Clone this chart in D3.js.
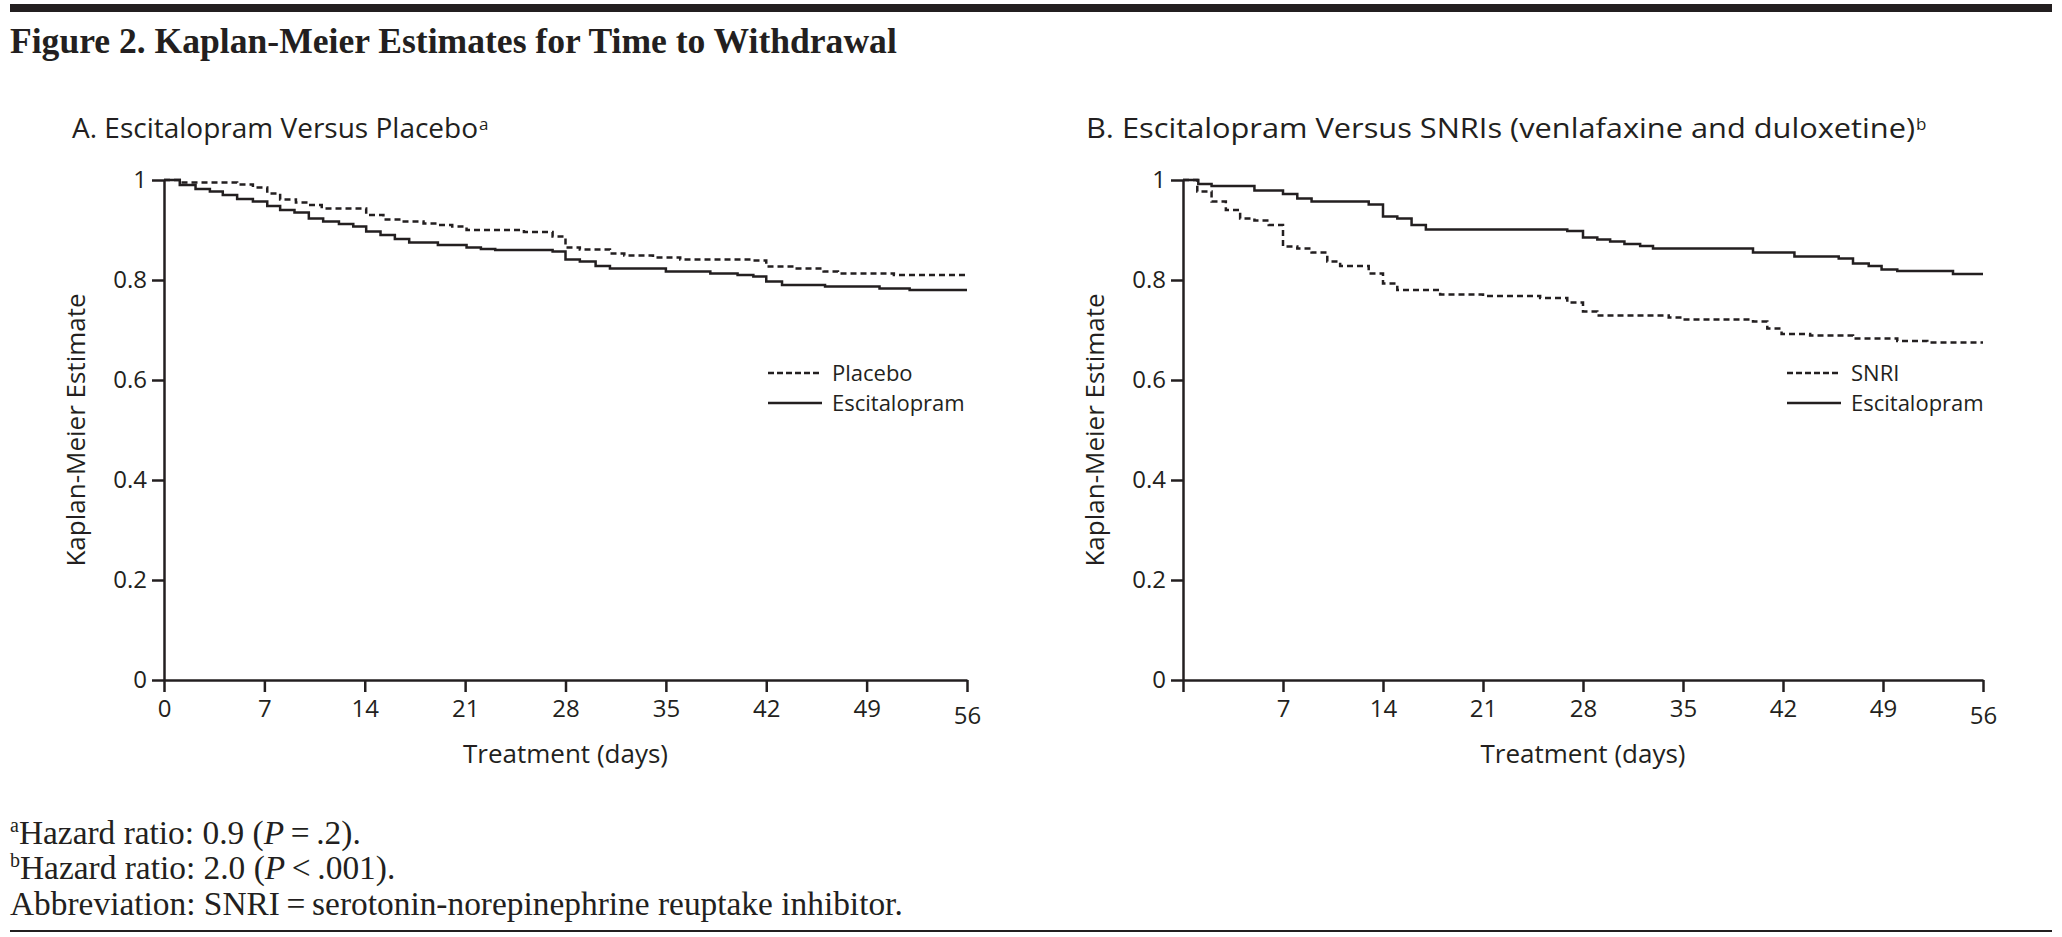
<!DOCTYPE html>
<html>
<head>
<meta charset="utf-8">
<script src="https://cdn.jsdelivr.net/npm/d3@7/dist/d3.min.js"></script>
<style>
  body { margin: 0; background: #fff; }
  text { fill: #231f20; }
</style>
</head>
<body>
<div id="vis_container"></div>
<script>
// x axis (days) and y axis ticks
var dayTicks = [0, 7, 14, 21, 28, 35, 42, 49, 56];
var dayLabelsA = ["0", "7", "14", "21", "28", "35", "42", "49", "56"];
var dayLabelsB = ["", "7", "14", "21", "28", "35", "42", "49", "56"];
var yTicks = [0, 0.2, 0.4, 0.6, 0.8, 1];

// Panel A: placebo (dashed)
var placeboDays = [0, 1.1, 5.1, 6.2, 7.2, 8.1, 9.2, 10.1, 11.0, 14.1, 15.3, 16.5, 18.1, 19.1, 20.1, 21.1, 25.1, 27.1, 28.0, 29.0, 31.1, 32.1, 34.1, 36.0, 41.0, 42.0, 44.0, 46.0, 47.0, 50.9];
var placeboSurv = [1, 0.995, 0.991, 0.985, 0.973, 0.961, 0.955, 0.950, 0.943, 0.930, 0.921, 0.917, 0.913, 0.910, 0.907, 0.900, 0.896, 0.887, 0.865, 0.861, 0.853, 0.849, 0.845, 0.841, 0.839, 0.827, 0.823, 0.817, 0.813, 0.810];

// Panel A: escitalopram (solid)
var escADays = [0, 1.1, 2.2, 3.2, 4.1, 5.1, 6.2, 7.2, 8.1, 9.1, 10.1, 11.1, 12.2, 13.2, 14.1, 15.1, 16.1, 17.1, 19.1, 21.1, 22.1, 23.1, 27.1, 28.0, 29.0, 30.1, 31.1, 35.0, 38.1, 40.0, 41.1, 42.0, 43.1, 46.1, 49.9, 52.0];
var escASurv = [1, 0.990, 0.982, 0.977, 0.970, 0.962, 0.957, 0.948, 0.940, 0.935, 0.923, 0.917, 0.912, 0.907, 0.897, 0.890, 0.882, 0.875, 0.870, 0.865, 0.862, 0.860, 0.857, 0.841, 0.837, 0.828, 0.823, 0.817, 0.813, 0.810, 0.807, 0.797, 0.790, 0.787, 0.783, 0.780];

// Panel B: SNRI (dashed)
var snriDays = [0, 1.0, 2.0, 3.0, 4.0, 5.0, 6.0, 7.0, 8.0, 9.0, 10.1, 11.0, 13.0, 14.0, 15.0, 18.0, 21.0, 25.0, 26.9, 28.0, 29.0, 34.0, 35.0, 39.9, 40.9, 41.9, 43.9, 46.9, 50.0, 52.1];
var snriSurv = [1, 0.977, 0.957, 0.940, 0.923, 0.919, 0.910, 0.867, 0.863, 0.855, 0.837, 0.828, 0.813, 0.793, 0.780, 0.771, 0.768, 0.764, 0.755, 0.737, 0.729, 0.725, 0.721, 0.717, 0.703, 0.692, 0.689, 0.683, 0.678, 0.675];

// Panel B: escitalopram (solid)
var escBDays = [0, 1.07, 2.0, 5.0, 7.0, 8.0, 9.0, 13.0, 14.0, 15.0, 16.0, 17.0, 26.9, 28.0, 29.0, 29.9, 30.9, 32.0, 32.9, 39.9, 42.8, 45.9, 46.9, 48.0, 48.9, 50.0, 53.9];
var escBSurv = [1, 0.992, 0.988, 0.979, 0.972, 0.963, 0.957, 0.951, 0.927, 0.923, 0.910, 0.901, 0.898, 0.885, 0.881, 0.877, 0.872, 0.868, 0.863, 0.855, 0.847, 0.843, 0.833, 0.828, 0.821, 0.818, 0.812];

var legendA = ["Placebo", "Escitalopram"];
var legendB = ["SNRI", "Escitalopram"];

var W = 2062, H = 937;
var ink = "#231f20";
var sans = "'Open Sans', 'Noto Sans', sans-serif";
var serif = "'Liberation Serif', 'DejaVu Serif', serif";

var svg = d3.select("#vis_container").append("svg")
	.attr("width", W)
	.attr("height", H)
	.style("display", "block")
	.style("background-color", "#FFFFFF");

// top heavy rule and bottom thin rule
svg.append("rect").attr("x", 10).attr("y", 4).attr("width", W - 20).attr("height", 8).attr("fill", ink);
svg.append("rect").attr("x", 10).attr("y", 930).attr("width", W - 20).attr("height", 2).attr("fill", ink);

svg.append("text")
	.attr("x", 10).attr("y", 53)
	.style("font-family", serif).style("font-weight", "bold").style("font-size", "35.6px")
	.text("Figure 2. Kaplan-Meier Estimates for Time to Withdrawal");

function zip(ds, ss) {
	var pts = ds.map(function(d, i) { return [d, ss[i]]; });
	pts.push([56, ss[ss.length - 1]]);
	return pts;
}

function drawPanel(cfg) {
	var x = d3.scaleLinear().domain([0, 56]).range([cfg.left, cfg.right]);
	var y = d3.scaleLinear().domain([0, 1]).range([680, 180]);

	var t = svg.append("text")
		.attr("x", cfg.titleX).attr("y", 138)
		.style("font-family", sans).style("font-size", "28px")
		.text(cfg.title);
	if (cfg.titleLen) t.attr("textLength", cfg.titleLen).attr("lengthAdjust", "spacingAndGlyphs");
	var tEnd = cfg.titleX + (cfg.titleLen || t.node().getComputedTextLength());
	svg.append("text")
		.attr("x", tEnd + 1).attr("y", 130)
		.style("font-family", sans).style("font-size", "17px")
		.text(cfg.sup);

	var yAxis = svg.append("g")
		.attr("transform", "translate(" + cfg.left + ",0)")
		.call(d3.axisLeft(y).tickValues(yTicks).tickSize(12).tickSizeOuter(0).tickPadding(5).tickFormat(d3.format("~g")));
	var xAxis = svg.append("g")
		.attr("transform", "translate(0,680)")
		.call(d3.axisBottom(x).tickValues(dayTicks).tickSize(12).tickSizeOuter(0).tickPadding(8)
			.tickFormat(function(d, i) { return cfg.dayLabels[i]; }));

	[xAxis, yAxis].forEach(function(g) {
		g.selectAll("path, line").attr("stroke", ink).attr("stroke-width", 2.5);
		g.selectAll("text").style("font-family", sans).style("font-size", "24px").attr("fill", ink);
	});
	// last day label sits a little lower in the original
	xAxis.selectAll(".tick text").filter(function(d) { return d === 56; }).attr("y", 27);

	svg.append("text")
		.attr("x", (cfg.left + cfg.right) / 2).attr("y", 763)
		.attr("text-anchor", "middle")
		.style("font-family", sans).style("font-size", "26px")
		.text("Treatment (days)");

	svg.append("text")
		.attr("transform", "translate(" + (cfg.left - 79) + ",430) rotate(-90)")
		.attr("text-anchor", "middle")
		.style("font-family", sans).style("font-size", "26px")
		.text("Kaplan-Meier Estimate");

	var line = d3.line()
		.x(function(d) { return x(d[0]); })
		.y(function(d) { return y(d[1]); })
		.curve(d3.curveStepAfter);

	svg.append("path")
		.datum(zip(cfg.dashDays, cfg.dashSurv))
		.attr("d", line)
		.attr("fill", "none").attr("stroke", ink).attr("stroke-width", 2.5)
		.attr("stroke-dasharray", "6,4");
	svg.append("path")
		.datum(zip(cfg.solidDays, cfg.solidSurv))
		.attr("d", line)
		.attr("fill", "none").attr("stroke", ink).attr("stroke-width", 2.5);

	// legend
	var lg = svg.append("g");
	cfg.legend.forEach(function(name, i) {
		var ly = 373 + i * 30;
		lg.append("line")
			.attr("x1", cfg.legendX).attr("x2", cfg.legendX + 54)
			.attr("y1", ly).attr("y2", ly)
			.attr("stroke", ink).attr("stroke-width", 2.5)
			.attr("stroke-dasharray", i === 0 ? "6,3" : null);
		lg.append("text")
			.attr("x", cfg.legendX + 64).attr("y", ly + 8)
			.style("font-family", sans).style("font-size", "22px")
			.text(name);
	});
}

drawPanel({
	left: 164, right: 967, titleX: 72,
	title: "A. Escitalopram Versus Placebo", sup: "a",
	dayLabels: dayLabelsA,
	dashDays: placeboDays, dashSurv: placeboSurv,
	solidDays: escADays, solidSurv: escASurv,
	legend: legendA, legendX: 768
});

drawPanel({
	left: 1183, right: 1983, titleX: 1086, titleLen: 829,
	title: "B. Escitalopram Versus SNRIs (venlafaxine and duloxetine)", sup: "b",
	dayLabels: dayLabelsB,
	dashDays: snriDays, dashSurv: snriSurv,
	solidDays: escBDays, solidSurv: escBSurv,
	legend: legendB, legendX: 1787
});

// footnotes
var notes = svg.append("g").style("font-family", serif).style("font-size", "33.4px");
var n1 = notes.append("text").attr("x", 10).attr("y", 844);
n1.append("tspan").attr("dy", -12).style("font-size", "20px").text("a");
n1.append("tspan").attr("dy", 12).text("Hazard ratio: 0.9 (");
n1.append("tspan").style("font-style", "italic").text("P");
n1.append("tspan").text("\u2009=\u2009.2).");

var n2 = notes.append("text").attr("x", 10).attr("y", 879);
n2.append("tspan").attr("dy", -12).style("font-size", "20px").text("b");
n2.append("tspan").attr("dy", 12).text("Hazard ratio: 2.0 (");
n2.append("tspan").style("font-style", "italic").text("P");
n2.append("tspan").text("\u2009<\u2009.001).");

notes.append("text").attr("x", 10).attr("y", 915)
	.text("Abbreviation: SNRI\u2009=\u2009serotonin-norepinephrine reuptake inhibitor.");
</script>
</body>
</html>
